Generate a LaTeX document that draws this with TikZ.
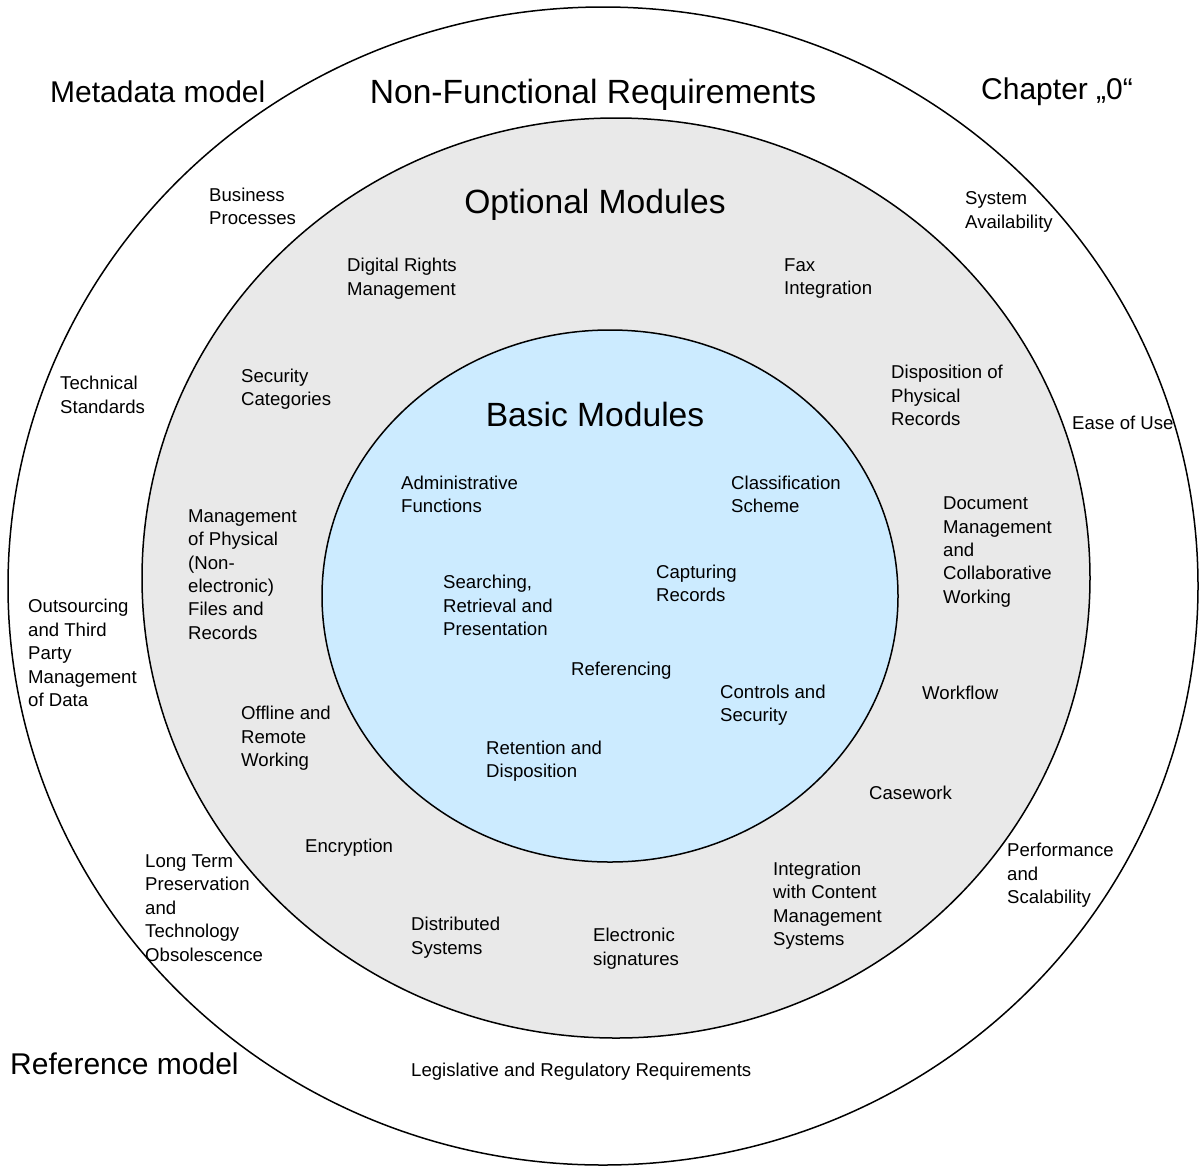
\documentclass[tikz,border=0pt]{standalone}
\usepackage{fontspec}
\setmainfont{Liberation Sans}
\usepackage{tikz}
\usetikzlibrary{positioning}

\definecolor{ringgrey}{HTML}{E9E9E9}
\definecolor{coreblue}{HTML}{CCEBFF}

\begin{document}
\begin{tikzpicture}[x=1pt,y=-1pt,
    ring/.style={draw=black,line width=1.5pt},
    lbl/.style={font=\fontsize{18.6}{23.4}\selectfont,align=left,anchor=west,inner sep=0pt,yshift=-2pt},
    corner/.style={font=\fontsize{30}{36}\selectfont,anchor=west,inner sep=0pt,yshift=-2pt},
    title/.style={font=\fontsize{33.6}{40}\selectfont,inner sep=0pt}]
  \useasboundingbox (0,0) rectangle (1199,1168);
  % rings
  \draw[ring] (603,586) ellipse [x radius=595pt,y radius=579pt];
  \draw[ring,fill=ringgrey] (616,578) ellipse [x radius=474pt,y radius=460pt];
  \draw[ring,fill=coreblue] (610,596) ellipse [x radius=288pt,y radius=266pt];

  % titles
  \node[title] (nfr) at (593,95) {Non-Functional Requirements};
  \node[title] (opt) at (595,205) {Optional Modules};
  \node[title] (basic) at (595,414) {Basic Modules};
  \node[corner] (meta) at (50,90) {Metadata model};
  \node[corner] (chap) at (981,90) {Chapter „0“};
  \node[corner] (ref) at (10,1062) {Reference model};

  % outer ring
  \node[lbl] (busproc) at (209,204.5) {Business\\Processes};
  \node[lbl] (sysavail) at (965,210) {System\\Availability};
  \node[lbl] (techstd) at (60,393) {Technical\\Standards};
  \node[lbl] (ease) at (1072,421) {Ease of Use};
  \node[lbl] (outsrc) at (28,651) {Outsourcing\\and Third\\Party\\Management\\of Data};
  \node[lbl] (longterm) at (145,906) {Long Term\\Preservation\\and\\Technology\\Obsolescence};
  \node[lbl] (perf) at (1007,873.5) {Performance\\and\\Scalability};
  \node[lbl] (legis) at (411,1070) {Legislative and Regulatory Requirements};

  % optional modules
  \node[lbl] (drm) at (347,276.5) {Digital Rights\\Management};
  \node[lbl] (fax) at (784,276.5) {Fax\\Integration};
  \node[lbl] (seccat) at (241,387) {Security\\Categories};
  \node[lbl] (disphys) at (891,393.5) {Disposition of\\Physical\\Records};
  \node[lbl] (mgmtphys) at (188,572.5) {Management\\of Physical\\(Non-\\electronic)\\Files and\\Records};
  \node[lbl] (docmgmt) at (943,550) {Document\\Management\\and\\Collaborative\\Working};
  \node[lbl] (workflow) at (922,691) {Workflow};
  \node[lbl] (offline) at (241,736.5) {Offline and\\Remote\\Working};
  \node[lbl] (casework) at (869,791) {Casework};
  \node[lbl] (encrypt) at (305,846) {Encryption};
  \node[lbl] (cms) at (773,903.5) {Integration\\with Content\\Management\\Systems};
  \node[lbl] (distsys) at (411,935.5) {Distributed\\Systems};
  \node[lbl] (esig) at (593,946.5) {Electronic\\signatures};

  % basic modules
  \node[lbl] (admin) at (401,492.5) {Administrative\\Functions};
  \node[lbl] (classif) at (731,492.5) {Classification\\Scheme};
  \node[lbl] (search) at (443,603.5) {Searching,\\Retrieval and\\Presentation};
  \node[lbl] (capture) at (656,581.5) {Capturing\\Records};
  \node[lbl] (refing) at (571,669) {Referencing};
  \node[lbl] (controls) at (720,703) {Controls and\\Security};
  \node[lbl] (retention) at (486,759) {Retention and\\Disposition};
\end{tikzpicture}
\end{document}
